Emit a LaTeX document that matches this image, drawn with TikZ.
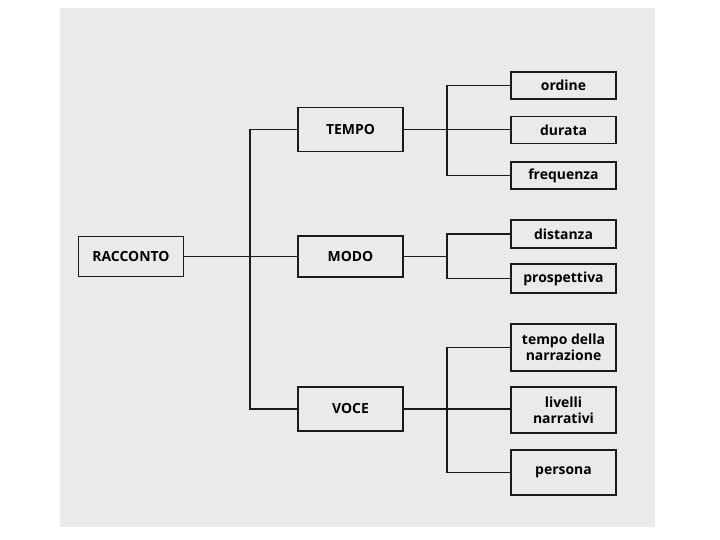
\documentclass[tikz,border=0pt]{standalone}
\usepackage{fontspec}
\setmainfont{Open Sans}
\definecolor{page}{HTML}{EAEAEA}
\definecolor{ink}{HTML}{1A1A1A}
\begin{document}
\begin{tikzpicture}[x=1bp,y=-1bp,
  box/.style={draw=ink, line width=1.5bp, fill=page, minimum width=105bp, inner sep=0pt,
    align=center, font=\fontsize{14}{16.5}\selectfont\bfseries, text=black},
  link/.style={draw=ink, line width=1.4bp}]
\useasboundingbox (0,0) rectangle (720,540);
\fill[white] (0,0) rectangle (720,540);
\fill[page] (60,8) rectangle (655,527);
% left column
\node[box, minimum height=40bp] (racc) at (131,256.5) {RACCONTO};
% middle column
\node[box, minimum height=44bp] (tempo) at (350.5,129.5) {TEMPO};
\node[box, minimum height=41bp] (modo) at (350.5,256.5) {MODO};
\node[box, minimum height=44bp] (voce) at (350.5,409) {VOCE};
% right column
\node[box, minimum height=27bp] (ordine) at (563.5,85.5) {ordine};
\node[box, minimum height=27bp] (durata) at (563.5,130) {durata};
\node[box, minimum height=27bp] (freq) at (563.5,175.5) {frequenza};
\node[box, minimum height=28bp] (dist) at (563.5,234) {distanza};
\node[box, minimum height=29bp] (prosp) at (563.5,278.5) {prospettiva};
\node[box, minimum height=47bp] (tdn) at (563.5,347.5) {tempo della\\narrazione};
\node[box, minimum height=46bp] (liv) at (563.5,410) {livelli\\narrativi};
\node[box, minimum height=45bp] (pers) at (563.5,472.5) {persona};
% spines
\coordinate (sA) at (250,0);
\coordinate (sB) at (447,0);
% main connectors
\draw[link] (racc.east) -- (racc.east -| sA);
\draw[link] (tempo.west) -- (tempo.west -| sA) -- (voce.west -| sA) -- (voce.west);
\draw[link] (racc.east -| sA) -- (racc.east -| modo.west);
% TEMPO group
\draw[link] (tempo.east) -- (tempo.east -| durata.west);
\draw[link] (ordine.west) -- (ordine.west -| sB) -- (freq.west -| sB) -- (freq.west);
% MODO group
\draw[link] (modo.east) -- (modo.east -| sB);
\draw[link] (dist.west) -- (dist.west -| sB) -- (prosp.west -| sB) -- (prosp.west);
% VOCE group
\draw[link] (voce.east) -- (voce.east -| sB);
\draw[link] (tdn.west) -- (tdn.west -| sB) -- (pers.west -| sB) -- (pers.west);
\draw[link] (voce.east -| sB) -- (voce.east -| liv.west);
\end{tikzpicture}
\end{document}
